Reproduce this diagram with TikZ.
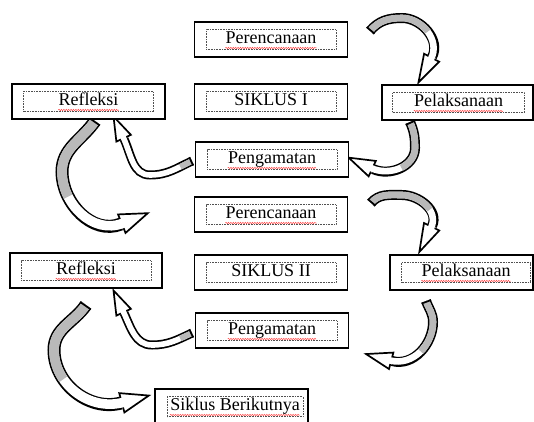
\documentclass[tikz,border=0pt]{standalone}
\usepackage{fontspec}
\setmainfont{Liberation Serif}
\usetikzlibrary{calc,shapes.geometric,decorations.pathmorphing}
\definecolor{ribbongray}{RGB}{185,185,185}
\definecolor{dotgray}{RGB}{80,80,80}
\tikzset{
  outerbox/.style={draw=black,line width=1.8pt,fill=white,minimum height=35pt,inner sep=0pt},
  dotbox/.style={draw=dotgray,line width=0.6pt,dash pattern=on 0.8pt off 0.8pt,minimum height=20pt,inner sep=0pt},
  txt/.style={inner sep=0pt,anchor=base,font=\fontsize{18}{21}\selectfont},
  spell/.style={draw=red!70,line width=0.5pt,decorate,decoration={snake,segment length=2.4pt,amplitude=0.7pt}},
  headtri/.style={isosceles triangle,isosceles triangle stretches,shape border rotate=0,draw=black,fill=white,line width=1.7pt,inner sep=0pt},
}
% #1 start, #2 out angle, #3 mid, #4 mid direction, #5 end, #6 end direction, #7 width, #8 head options, #9 grey length
\newcommand{\ribbon}[9]{%
  \pgfmathsetmacro\rinM{#4+180}%
  \pgfmathsetmacro\rinE{#6+180}%
  \pgfmathsetmacro\rinW{#7-3.4}%
  \pgfmathsetmacro\rhalf{#7/2}%
  \pgfmathsetmacro\rpa{#2+90}%
  \pgfmathsetmacro\rpb{#2-90}%
  \draw[line width=#7pt] (#1) to[out=#2,in=\rinM] (#3) to[out=#4,in=\rinE] (#5);
  \path (#3) to[out=#4,in=\rinE] node[headtri,#8,pos=1,sloped,allow upside down,anchor=lower side]{} (#5);
  \draw[line width=\rinW pt,draw=white,shorten >=-2.5pt] (#1) to[out=#2,in=\rinM] (#3) to[out=#4,in=\rinE] (#5);
  \draw[line width=\rinW pt,draw=ribbongray,dash pattern=on #9pt off 3000pt] (#1) to[out=#2,in=\rinM] (#3) to[out=#4,in=\rinE] (#5);
  \draw[line width=1.7pt] ($(#1)+(\rpa:\rhalf)+(#2:0.85)$) -- ($(#1)+(\rpb:\rhalf)+(#2:0.85)$);
}
% #1 name, #2 x, #3 y, #4 outer width, #5 inner width, #6 inner shift, #7 text
\newcommand{\cyclebox}[7]{%
  \node[outerbox,minimum width=#4pt] (#1) at (#2,#3) {};
  \node[dotbox,minimum width=#5pt] (#1d) at ($(#1.center)+(#6,0)$) {};
  \node[txt] (#1t) at ($(#1d.center)+(0,-4)$) {#7};
}
\newcommand{\spellmark}[1]{\draw[spell] ([yshift=-4.5pt]#1t.base west) -- ([yshift=-4.5pt]#1t.base east);}
\begin{document}
\begin{tikzpicture}[x=1pt,y=1pt]
\useasboundingbox (0,0) rectangle (534,421);
\fill[white] (0,0) rectangle (534,421);
% arrow end points
\coordinate (a1s) at (370,390); \coordinate (a1m) at (402,403); \coordinate (a1e) at (432,364);
\coordinate (a2s) at (410,299); \coordinate (a2m) at (415,273); \coordinate (a2e) at (373,252);
\coordinate (a3s) at (192,260); \coordinate (a3m) at (150,246); \coordinate (a3e) at (124,282);
\coordinate (a4s) at (95,300);  \coordinate (a4m) at (62,249);  \coordinate (a4e) at (121,197);
\coordinate (a5s) at (371,218); \coordinate (a5m) at (402,226); \coordinate (a5e) at (432,195);
\coordinate (a6s) at (426,120); \coordinate (a6m) at (433,99);  \coordinate (a6e) at (392,60);
\coordinate (a7s) at (192,88);  \coordinate (a7m) at (152,76);  \coordinate (a7e) at (124,108);
\coordinate (a8s) at (86,116);  \coordinate (a8m) at (54,71);   \coordinate (a8e) at (121,18);
% curved block arrows
\ribbon{a1s}{50}{a1m}{0}{a1e}{242}{10}{minimum width=17pt,minimum height=28pt}{66}
\ribbon{a5s}{50}{a5m}{0}{a5e}{244}{10}{minimum width=17pt,minimum height=28pt}{66}
\ribbon{a2s}{294}{a2m}{270}{a2e}{155}{10}{minimum width=17pt,minimum height=26pt}{52}
\ribbon{a6s}{290}{a6m}{270}{a6e}{165}{10}{minimum width=17pt,minimum height=26pt}{55}
\ribbon{a3s}{205}{a3m}{180}{a3e}{115}{9}{minimum width=16pt,minimum height=24pt}{13}
\ribbon{a7s}{205}{a7m}{180}{a7e}{115}{9}{minimum width=16pt,minimum height=24pt}{13}
\ribbon{a4s}{235}{a4m}{270}{a4e}{22}{13}{minimum width=20pt,minimum height=28pt}{88}
\ribbon{a8s}{235}{a8m}{270}{a8e}{15}{13}{minimum width=20pt,minimum height=28pt}{88}
% boxes
\cyclebox{per1}{271}{381.5}{153}{130}{0}{Perencanaan}
\cyclebox{sik1}{271}{319.5}{153}{130}{0}{SIKLUS I}
\cyclebox{ref1}{88.5}{319.5}{153}{130}{0}{Refleksi}
\cyclebox{pel1}{457.5}{318.5}{151}{132}{1}{Pelaksanaan}
\cyclebox{pen1}{272}{261.5}{153}{130}{0}{Pengamatan}
\cyclebox{per2}{271}{206.5}{153}{130}{0}{Perencanaan}
\cyclebox{sik2}{271}{148.5}{153}{130}{0}{SIKLUS II}
\cyclebox{ref2}{86}{150.5}{152}{130}{0}{Refleksi}
\cyclebox{pel2}{461.5}{148.5}{143}{129}{4.5}{Pelaksanaan}
\cyclebox{pen2}{272}{90.5}{153}{130}{0}{Pengamatan}
\cyclebox{sb}{231.5}{14.5}{153}{136}{3.5}{Siklus Berikutnya}
\spellmark{per1}\spellmark{ref1}\spellmark{pel1}\spellmark{pen1}
\spellmark{per2}\spellmark{ref2}\spellmark{pel2}\spellmark{pen2}\spellmark{sb}
\end{tikzpicture}
\end{document}
